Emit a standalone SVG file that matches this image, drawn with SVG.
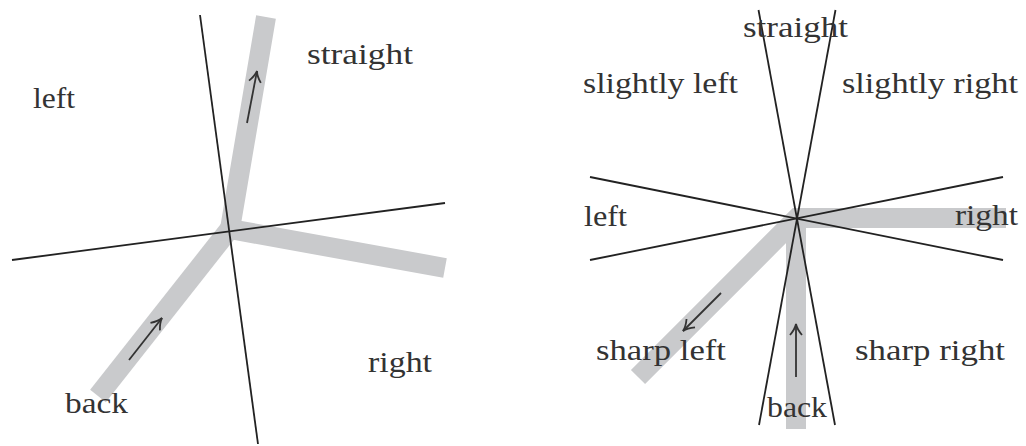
<svg xmlns="http://www.w3.org/2000/svg" width="1026" height="446" viewBox="0 0 1026 446">
<style>
.band{fill:none;stroke:#c9cacc;stroke-width:20;stroke-linejoin:miter;stroke-linecap:butt}
.ln{stroke:#222;stroke-width:1.8;fill:none}
.arr{stroke:#333;stroke-width:1.8;fill:none;marker-end:url(#ah)}
text{font-family:"Liberation Serif","Times New Roman",serif;font-size:30px;fill:#333}
</style>
<defs>
<marker id="ah" markerUnits="userSpaceOnUse" markerWidth="24" markerHeight="24" viewBox="-12 -12 24 24" refX="0" refY="0" orient="auto">
<path d="M-11,-6 Q-5,-1 0,0 Q-5,1 -11,6" fill="none" stroke="#333" stroke-width="1.8"/>
</marker>
</defs>
<rect width="1026" height="446" fill="#fff"/>
<g id="left-diagram">
<g id="left-paths">
<polyline class="band" points="266,17 230,229 445,268"/>
<line class="band" x1="98" y1="396" x2="232" y2="226"/>
</g>
<g id="left-connectors">
<line class="ln" x1="200" y1="15" x2="258" y2="444"/>
<line class="ln" x1="12" y1="260" x2="445" y2="203"/>
<line class="arr" x1="247" y1="123" x2="257" y2="71"/>
<line class="arr" x1="129" y1="360" x2="162" y2="318"/>
</g>
<g id="left-labels">
<text x="307" y="64" textLength="106" lengthAdjust="spacingAndGlyphs">straight</text>
<text x="33" y="108" textLength="42" lengthAdjust="spacingAndGlyphs">left</text>
<text x="368" y="372" textLength="64" lengthAdjust="spacingAndGlyphs">right</text>
<text x="65" y="413" textLength="63" lengthAdjust="spacingAndGlyphs">back</text>
</g>
</g>
<g id="right-diagram">
<g id="right-paths">
<polyline class="band" points="638,377 797,218 1006,218"/>
<line class="band" x1="796" y1="429" x2="796" y2="218"/>
</g>
<g id="right-connectors">
<line class="ln" x1="758.5" y1="10" x2="835" y2="425"/>
<line class="ln" x1="835.5" y1="10" x2="759" y2="425"/>
<line class="ln" x1="590" y1="177" x2="1003" y2="260"/>
<line class="ln" x1="590" y1="260" x2="1003" y2="177"/>
<line class="arr" x1="721" y1="293" x2="683" y2="331"/>
<line class="arr" x1="796" y1="377" x2="796" y2="324"/>
</g>
<g id="right-labels">
<text x="743" y="37" textLength="105" lengthAdjust="spacingAndGlyphs">straight</text>
<text x="583" y="93" textLength="155" lengthAdjust="spacingAndGlyphs">slightly left</text>
<text x="842" y="93" textLength="176" lengthAdjust="spacingAndGlyphs">slightly right</text>
<text x="584" y="226" textLength="43" lengthAdjust="spacingAndGlyphs">left</text>
<text x="955" y="225" textLength="63" lengthAdjust="spacingAndGlyphs">right</text>
<text x="596" y="360" textLength="130" lengthAdjust="spacingAndGlyphs">sharp left</text>
<text x="855" y="360" textLength="150" lengthAdjust="spacingAndGlyphs">sharp right</text>
<text x="767" y="417" textLength="60" lengthAdjust="spacingAndGlyphs">back</text>
</g>
</g>
</svg>
